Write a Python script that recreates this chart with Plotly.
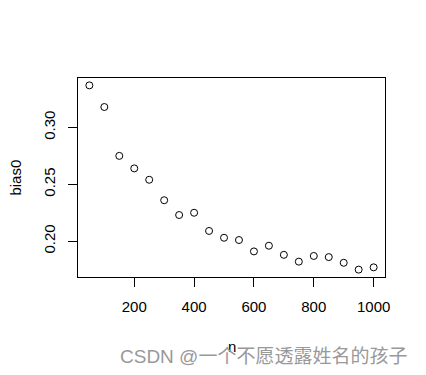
import plotly.graph_objects as go

n = [50, 100, 150, 200, 250, 300, 350, 400, 450, 500,
     550, 600, 650, 700, 750, 800, 850, 900, 950, 1000]
bias0 = [0.337, 0.318, 0.275, 0.264, 0.254, 0.236, 0.223, 0.225, 0.209, 0.203,
         0.201, 0.191, 0.196, 0.188, 0.182, 0.187, 0.186, 0.181, 0.175, 0.177]
x_ticks = [200, 400, 600, 800, 1000]
y_ticks = [0.20, 0.25, 0.30]
y_tick_labels = ["0.20", "0.25", "0.30"]

font_family = "Liberation Sans, Arial, sans-serif"

fig = go.Figure()
fig.add_trace(go.Scatter(
    x=n, y=bias0, mode="markers",
    marker=dict(symbol="circle-open", size=7, color="black", line=dict(width=1, color="black")),
    showlegend=False,
))

axis_common = dict(
    showline=True, linecolor="black", linewidth=1, mirror=True,
    ticks="outside", ticklen=9, tickwidth=1, tickcolor="black",
    showgrid=False, zeroline=False, automargin=False,
    tickfont=dict(family=font_family, size=15, color="black"),
    ticklabelstandoff=7,
)

fig.update_layout(
    width=418, height=367,
    margin=dict(l=70, r=41, t=70, b=98),
    paper_bgcolor="white", plot_bgcolor="white",
    font=dict(family=font_family, size=15, color="black"),
    xaxis=dict(range=[12, 1038], tickvals=x_ticks, **axis_common),
    yaxis=dict(range=[0.1685, 0.3435], tickvals=y_ticks, ticktext=y_tick_labels,
               tickangle=-90, **axis_common),
    annotations=[
        dict(text="n", xref="paper", yref="paper", x=0.5, y=-0.347,
             xanchor="center", yanchor="middle", showarrow=False,
             font=dict(family=font_family, size=15, color="black")),
        dict(text="bias0", xref="paper", yref="paper", x=-0.205, y=0.5,
             xanchor="center", yanchor="middle", showarrow=False, textangle=-90,
             font=dict(family=font_family, size=15, color="black")),
        dict(text="CSDN @一个不愿透露姓名的孩子", xref="paper", yref="paper",
             x=0.603, y=-0.399, xanchor="center", yanchor="middle", showarrow=False,
             font=dict(family="Liberation Sans, Noto Sans CJK SC, sans-serif", size=19, color="#999999")),
    ],
)

fig.write_html("out.html")
